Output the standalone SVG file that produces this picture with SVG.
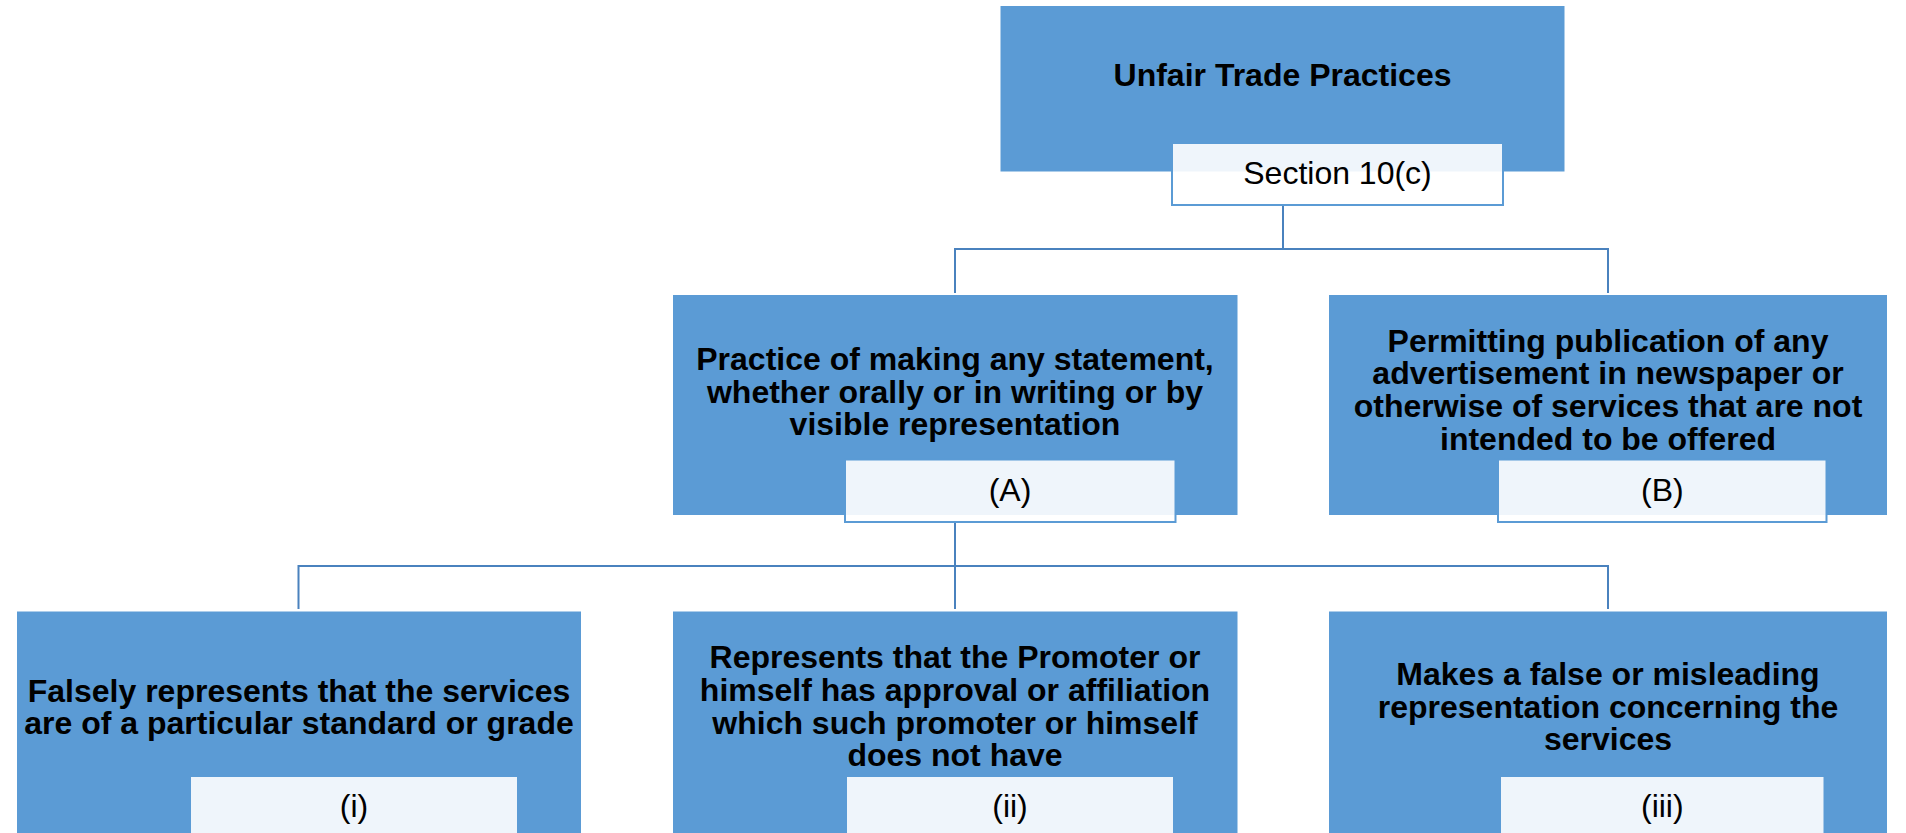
<svg xmlns="http://www.w3.org/2000/svg" width="1906" height="833" viewBox="0 0 1906 833">
<style>
.box{fill:#5B9BD5;stroke:#FFFFFF;stroke-width:1}
.lbl{fill:#FFFFFF;fill-opacity:0.9;stroke:#5B9BD5;stroke-width:2}
.t{font-family:"Liberation Sans",Arial,sans-serif;font-weight:bold;font-size:32px;fill:#000;text-anchor:middle}
.l{font-family:"Liberation Sans",Arial,sans-serif;font-size:32px;fill:#000;text-anchor:middle}
.c{fill:none;stroke:#4A82BE;stroke-width:2}
</style>
<rect width="1906" height="833" fill="#FFFFFF"/>
<g id="connectors">
<path class="c" d="M1283,205 V249 M955,293 V249 H1608 V293"/>
<path class="c" d="M955,522 V609 M298.5,609 V566 H1608 V609"/>
</g>
<g id="root">
<rect class="box" x="1000" y="5.5" width="565" height="166.5"/>
<text class="t" x="1282.5" y="86">Unfair Trade Practices</text>
<rect class="lbl" x="1172" y="143" width="331" height="62"/>
<text class="l" x="1337.5" y="183.5">Section 10(c)</text>
</g>
<g id="nodeA">
<rect class="box" x="672.5" y="294.5" width="565.5" height="221"/>
<text class="t" x="955" y="370">Practice of making any statement,</text>
<text class="t" x="955" y="402.7">whether orally or in writing or by</text>
<text class="t" x="955" y="435.4">visible representation</text>
<rect class="lbl" x="845" y="459.5" width="330.5" height="62.5"/>
<text class="l" x="1010" y="500.5">(A)</text>
</g>
<g id="nodeB">
<rect class="box" x="1328.5" y="294.5" width="559" height="221"/>
<text class="t" x="1608" y="351.7">Permitting publication of any</text>
<text class="t" x="1608" y="384.4">advertisement in newspaper or</text>
<text class="t" x="1608" y="417.1">otherwise of services that are not</text>
<text class="t" x="1608" y="449.8">intended to be offered</text>
<rect class="lbl" x="1498" y="459.5" width="328.5" height="62.5"/>
<text class="l" x="1662.3" y="500.5">(B)</text>
</g>
<g id="nodeI">
<rect class="box" x="16.5" y="611" width="565" height="230"/>
<text class="t" x="299" y="701.7">Falsely represents that the services</text>
<text class="t" x="299" y="734.4">are of a particular standard or grade</text>
<rect class="lbl" x="190" y="776" width="328" height="70"/>
<text class="l" x="354" y="817">(i)</text>
</g>
<g id="nodeII">
<rect class="box" x="672.5" y="611" width="565.5" height="230"/>
<text class="t" x="955" y="668.3">Represents that the Promoter or</text>
<text class="t" x="955" y="701">himself has approval or affiliation</text>
<text class="t" x="955" y="733.7">which such promoter or himself</text>
<text class="t" x="955" y="766.4">does not have</text>
<rect class="lbl" x="846" y="776" width="328" height="70"/>
<text class="l" x="1010" y="817">(ii)</text>
</g>
<g id="nodeIII">
<rect class="box" x="1328.5" y="611" width="559" height="230"/>
<text class="t" x="1608" y="685">Makes a false or misleading</text>
<text class="t" x="1608" y="717.7">representation concerning the</text>
<text class="t" x="1608" y="750.4">services</text>
<rect class="lbl" x="1500" y="776" width="324.5" height="70"/>
<text class="l" x="1662.3" y="817">(iii)</text>
</g>
</svg>
